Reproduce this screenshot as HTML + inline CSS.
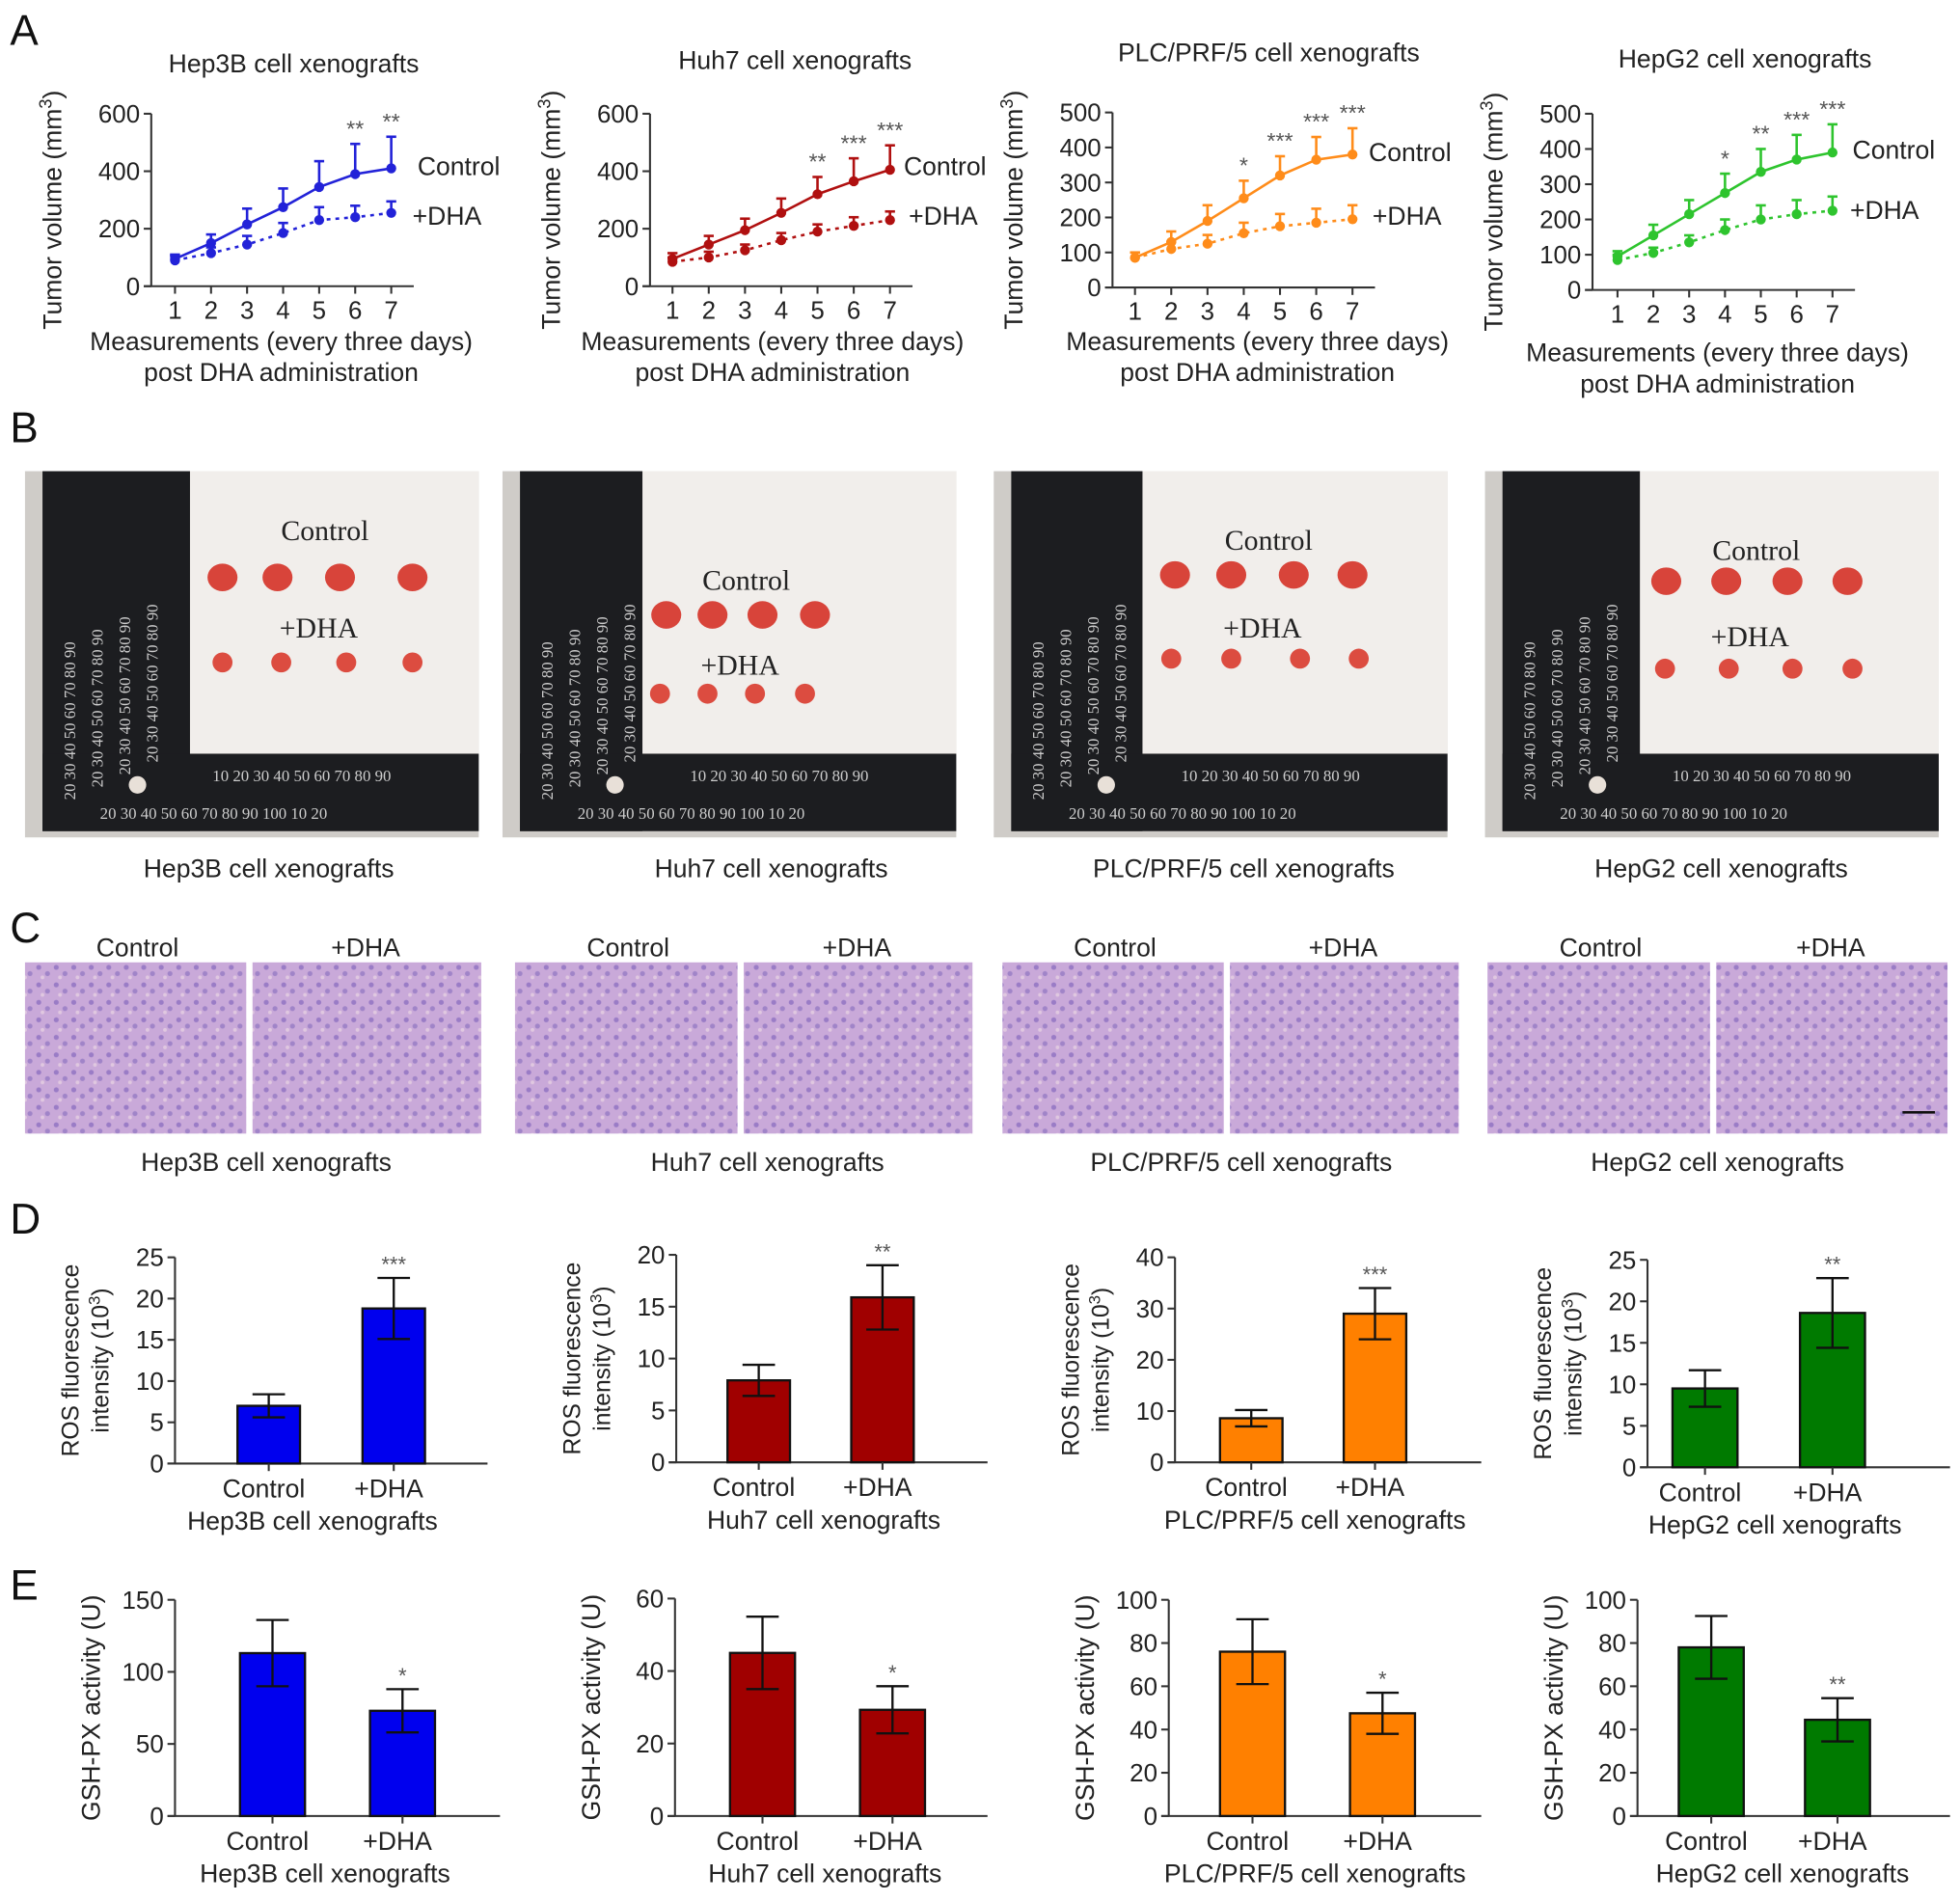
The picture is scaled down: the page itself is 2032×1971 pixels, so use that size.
<!DOCTYPE html>
<html><head><meta charset="utf-8"><style>
html,body{margin:0;padding:0;background:#fff;}
svg{display:block;font-family:"Liberation Sans",Arial,sans-serif;}
</style></head><body>
<svg id="fig" xmlns="http://www.w3.org/2000/svg" width="2032" height="1971" viewBox="0 0 1568 1521" preserveAspectRatio="none">
<rect x="0" y="0" width="1568" height="1521" fill="#fff"/>
<g id="labels" fill="#111" font-size="34">
<text x="8" y="36">A</text>
<text x="8" y="354">B</text>
<text x="8" y="754">C</text>
<text x="8" y="987">D</text>
<text x="8" y="1280">E</text>
</g>
<g id="gA"></g><g id="gB"></g><g id="gC"></g><g id="gD"></g><g id="gE"></g>
</svg>
<script>
// ---- Panel A data (tumor volume) ----
const measurements = [1,2,3,4,5,6,7];
const hep3bCtrl = [95,150,215,275,345,390,410];
const hep3bCtrlErr = [15,30,55,65,90,105,110];
const hep3bDha = [90,115,145,185,230,240,255];
const hep3bDhaErr = [15,20,30,35,45,40,40];
const hep3bStars = ["","","","","","**","**"];
const huh7Ctrl = [95,145,195,255,320,365,405];
const huh7CtrlErr = [20,30,40,50,60,80,85];
const huh7Dha = [85,100,125,160,190,210,230];
const huh7DhaErr = [15,20,20,25,25,30,30];
const huh7Stars = ["","","","","**","***","***"];
const plcCtrl = [85,130,190,255,320,365,380];
const plcCtrlErr = [15,30,45,50,55,65,75];
const plcDha = [85,110,125,155,175,185,195];
const plcDhaErr = [15,20,25,30,35,40,40];
const plcStars = ["","","","*","***","***","***"];
const hepg2Ctrl = [95,155,215,275,335,370,390];
const hepg2CtrlErr = [15,30,40,55,65,70,80];
const hepg2Dha = [85,105,135,170,200,215,225];
const hepg2DhaErr = [15,15,20,30,40,40,40];
const hepg2Stars = ["","","","*","**","***","***"];
const ticks600 = [0,200,400,600];
const ticks500 = [0,100,200,300,400,500];
// ---- Panel D data (ROS) ----
const groups = ["Control","+DHA"];
const rosHep3b = [7,18.8], rosHep3bErr = [1.4,3.7];
const rosHuh7 = [7.9,15.9], rosHuh7Err = [1.5,3.1];
const rosPlc = [8.6,29], rosPlcErr = [1.6,5];
const rosHepg2 = [9.5,18.6], rosHepg2Err = [2.2,4.2];
const rosStars = [["","***"],["","**"],["","***"],["","**"]];
// ---- Panel E data (GSH-PX) ----
const gshHep3b = [113,73], gshHep3bErr = [23,15];
const gshHuh7 = [45,29.3], gshHuh7Err = [10,6.5];
const gshPlc = [76,47.5], gshPlcErr = [15,9.5];
const gshHepg2 = [78,44.5], gshHepg2Err = [14.5,10];
const gshStars = [["","*"],["","*"],["","*"],["","**"]];

const NS="http://www.w3.org/2000/svg";
function mk(parent,tag,attrs,text){const e=document.createElementNS(NS,tag);for(const k in attrs)e.setAttribute(k,attrs[k]);if(text!==undefined)e.textContent=text;parent.appendChild(e);return e;}
const TXT="#222";
const FS=20.5;

function lineChart(cfg){
  const g=mk(document.getElementById('gA'),'g',{});
  
  
  const ymax=cfg.ticks[cfg.ticks.length-1];
  const sy=v=>cfg.y0-(v/ymax)*(cfg.y0-cfg.ytop);
  const sx=i=>cfg.x1+(i-1)*(cfg.x7-cfg.x1)/6;
  const ya=mk(g,'line',{x1:cfg.ax,y1:cfg.ytop,x2:cfg.ax,y2:cfg.y0,stroke:'#333','stroke-width':1.6});
  
  const xa=mk(g,'line',{x1:cfg.ax-6,y1:cfg.y0,x2:sx(7)+18,y2:cfg.y0,stroke:'#333','stroke-width':1.6});
  
  cfg.ticks.forEach(t=>{mk(g,'line',{x1:cfg.ax-6,y1:sy(t),x2:cfg.ax,y2:sy(t),stroke:'#333','stroke-width':1.6});
    const tl=mk(g,'text',{x:cfg.ax-9,y:sy(t)+7,'text-anchor':'end','font-size':20,fill:TXT},String(t));
    });
  measurements.forEach(m=>{mk(g,'line',{x1:sx(m),y1:cfg.y0,x2:sx(m),y2:cfg.y0+6,stroke:'#333','stroke-width':1.6});
    const tl=mk(g,'text',{x:sx(m),y:cfg.y0+26,'text-anchor':'middle','font-size':20,fill:TXT},String(m));
    });
  const title=mk(g,'text',{x:cfg.tx,y:cfg.ty,'text-anchor':'middle','font-size':FS,fill:TXT},cfg.title);
  
  const xl1=mk(g,'text',{x:cfg.xlx,y:cfg.xly,'text-anchor':'middle','font-size':FS,fill:TXT},'Measurements (every three days)');
  
  mk(g,'text',{x:cfg.xlx,y:cfg.xly+25,'text-anchor':'middle','font-size':FS,fill:TXT},'post DHA administration');
  const yc=(cfg.ytop+cfg.y0)/2+8;
  const yl=mk(g,'text',{x:0,y:0,'text-anchor':'middle','font-size':FS,fill:TXT,transform:`translate(${cfg.ax-72},${yc}) rotate(-90)`});
  
  yl.textContent='Tumor volume (mm';mk(yl,'tspan',{'baseline-shift':'super','font-size':14},'3');mk(yl,'tspan',{},')');
  const series=[[cfg.dha,cfg.dhaErr,true],[cfg.ctrl,cfg.ctrlErr,false]];
  series.forEach(([vals,errs,dashed])=>{
    const pts=vals.map((v,i)=>sx(measurements[i])+','+sy(v)).join(' ');
    const pl=mk(g,'polyline',{points:pts,fill:'none',stroke:cfg.color,'stroke-width':2,'stroke-dasharray':dashed?'3,4':'none'});
    
    vals.forEach((v,i)=>{const x=sx(measurements[i]);
      mk(g,'line',{x1:x,y1:sy(v),x2:x,y2:sy(v+errs[i]),stroke:cfg.color,'stroke-width':2});
      mk(g,'line',{x1:x-4,y1:sy(v+errs[i]),x2:x+4,y2:sy(v+errs[i]),stroke:cfg.color,'stroke-width':2});
      const p=mk(g,'circle',{cx:x,cy:sy(v),r:4,fill:cfg.color});
      });
  });
  cfg.stars.forEach((s,i)=>{if(!s)return;const x=sx(measurements[i]);
    const st=mk(g,'text',{x:x,y:sy(cfg.ctrl[i]+cfg.ctrlErr[i])-6,'text-anchor':'middle','font-size':18,fill:'#555'},s);
    });
  const lc=mk(g,'text',{x:cfg.lx,y:cfg.lcy,'font-size':FS,fill:TXT},'Control');
  
  const ld=mk(g,'text',{x:cfg.lx2,y:cfg.ldy,'font-size':FS,fill:TXT},'+DHA');
  
}
lineChart({name:'hep3b-volume-chart',ax:121,y0:229,ytop:91,x1:140,x7:313,ticks:ticks600,ctrl:hep3bCtrl,ctrlErr:hep3bCtrlErr,dha:hep3bDha,dhaErr:hep3bDhaErr,stars:hep3bStars,color:'#2222d8',title:'Hep3B cell xenografts',tx:235,ty:58,xlx:225,xly:280,lx:334,lcy:140,lx2:330,ldy:180});
lineChart({name:'huh7-volume-chart',ax:520,y0:229,ytop:91,x1:538,x7:712,ticks:ticks600,ctrl:huh7Ctrl,ctrlErr:huh7CtrlErr,dha:huh7Dha,dhaErr:huh7DhaErr,stars:huh7Stars,color:'#b01010',title:'Huh7 cell xenografts',tx:636,ty:55,xlx:618,xly:280,lx:723,lcy:140,lx2:727,ldy:180});
lineChart({name:'plc-volume-chart',ax:890,y0:230,ytop:90,x1:908,x7:1082,ticks:ticks500,ctrl:plcCtrl,ctrlErr:plcCtrlErr,dha:plcDha,dhaErr:plcDhaErr,stars:plcStars,color:'#ff8c1a',title:'PLC/PRF/5 cell xenografts',tx:1015,ty:49,xlx:1006,xly:280,lx:1095,lcy:129,lx2:1098,ldy:180});
lineChart({name:'hepg2-volume-chart',ax:1274,y0:232,ytop:91,x1:1294,x7:1466,ticks:ticks500,ctrl:hepg2Ctrl,ctrlErr:hepg2CtrlErr,dha:hepg2Dha,dhaErr:hepg2DhaErr,stars:hepg2Stars,color:'#2ec42e',title:'HepG2 cell xenografts',tx:1396,ty:54,xlx:1374,xly:289,lx:1482,lcy:127,lx2:1480,ldy:175});

// ---- Panel B photos ----
const photos=[
 {x:20,strip:118,cl:[260,432],dl:[255,510],cy:462,cx:[178,222,272,330],dy:530,dx:[178,225,277,330],cap:'Hep3B cell xenografts',capx:215,name:'hep3b-photo'},
 {x:402,strip:98,cl:[597,472],dl:[592,540],cy:492,cx:[533,570,610,652],dy:555,dx:[528,566,604,644],cap:'Huh7 cell xenografts',capx:617,name:'huh7-photo'},
 {x:795,strip:105,cl:[1015,440],dl:[1010,510],cy:460,cx:[940,985,1035,1082],dy:527,dx:[937,985,1040,1087],cap:'PLC/PRF/5 cell xenografts',capx:995,name:'plc-photo'},
 {x:1188,strip:110,cl:[1405,448],dl:[1400,517],cy:465,cx:[1333,1381,1430,1478],dy:535,dx:[1332,1383,1434,1482],cap:'HepG2 cell xenografts',capx:1377,name:'hepg2-photo'}];
const gB=document.getElementById('gB');
photos.forEach(p=>{
  const g=mk(gB,'g',{});
  mk(g,'rect',{x:p.x,y:377,width:363,height:293,fill:'#cfccc8'});
  mk(g,'rect',{x:p.x+14,y:377,width:p.strip,height:288,fill:'#1c1d20'});
  mk(g,'rect',{x:p.x+14,y:603,width:349,height:62,fill:'#1c1d20'});
  mk(g,'rect',{x:p.x+14+p.strip,y:377,width:349-p.strip,height:226,fill:'#f1eeeb'});
  for(let k=0;k<4;k++){
    mk(g,'text',{x:0,y:0,'font-size':13,fill:'#ccc','font-family':'Liberation Serif,serif',transform:`translate(${p.x+40+k*22},${640-k*10}) rotate(-90)`},'20 30 40 50 60 70 80 90');
  }
  mk(g,'text',{x:p.x+150,y:625,'font-size':13,fill:'#ccc','font-family':'Liberation Serif,serif'},'10  20  30  40   50  60  70  80  90');
  mk(g,'text',{x:p.x+60,y:655,'font-size':13,fill:'#ccc','font-family':'Liberation Serif,serif'},'20  30  40  50  60  70  80  90 100 10  20');
  mk(g,'circle',{cx:p.x+90,cy:628,r:7,fill:'#e8e0d8'});
  const c=mk(g,'text',{x:p.cl[0],y:p.cl[1],'text-anchor':'middle','font-size':23,fill:'#222','font-family':'Liberation Serif,serif'},'Control');
  
  const d=mk(g,'text',{x:p.dl[0],y:p.dl[1],'text-anchor':'middle','font-size':23,fill:'#222','font-family':'Liberation Serif,serif'},'+DHA');
  
  p.cx.forEach(x=>{const t=mk(g,'ellipse',{cx:x,cy:p.cy,rx:12,ry:11,fill:'#d8443a'});});
  p.dx.forEach(x=>{const t=mk(g,'ellipse',{cx:x,cy:p.dy,rx:8,ry:8,fill:'#dc4c40'});});
  const cap=mk(gB,'text',{x:p.capx,y:702,'text-anchor':'middle','font-size':FS,fill:TXT},p.cap);
  
});

// ---- Panel C histology ----
const gC=document.getElementById('gC');
const hist=[[20,200,385,'Hep3B cell xenografts',213],[412,593,778,'Huh7 cell xenografts',614],[802,982,1167,'PLC/PRF/5 cell xenografts',993],[1190,1371,1558,'HepG2 cell xenografts',1374]];
const defs=mk(document.getElementById('fig'),'defs',{});
const pat=mk(defs,'pattern',{id:'tissue',width:14,height:14,patternUnits:'userSpaceOnUse'});
mk(pat,'rect',{width:14,height:14,fill:'#c9a9d9'});
mk(pat,'circle',{cx:3,cy:4,r:2,fill:'#9a7cc6'});mk(pat,'circle',{cx:10,cy:9,r:2,fill:'#a084c8'});mk(pat,'circle',{cx:6,cy:12,r:1.5,fill:'#e0c8e0'});
hist.forEach(h=>{
  const a=mk(gC,'rect',{x:h[0],y:770,width:h[1]-h[0]-3,height:137,fill:'url(#tissue)'});
  const b=mk(gC,'rect',{x:h[1]+2,y:770,width:h[2]-h[1]-2,height:137,fill:'url(#tissue)'});
  mk(gC,'text',{x:(h[0]+h[1])/2,y:765,'text-anchor':'middle','font-size':FS,fill:TXT},'Control');
  mk(gC,'text',{x:(h[1]+h[2])/2,y:765,'text-anchor':'middle','font-size':FS,fill:TXT},'+DHA');
  const cap=mk(gC,'text',{x:h[4],y:937,'text-anchor':'middle','font-size':FS,fill:TXT},h[3]);
  
});
mk(gC,'line',{x1:1522,y1:890,x2:1548,y2:890,stroke:'#111','stroke-width':2});

// ---- bar charts ----
function barChart(parentId,cfg){
  const g=mk(document.getElementById(parentId),'g',{});
  
  const ymax=cfg.ticks[cfg.ticks.length-1];
  const sy=v=>cfg.y0-(v/ymax)*(cfg.y0-cfg.ytop);
  const ya=mk(g,'line',{x1:cfg.ax,y1:cfg.ytop,x2:cfg.ax,y2:cfg.y0,stroke:'#333','stroke-width':1.6});
  
  const xa=mk(g,'line',{x1:cfg.ax-6,y1:cfg.y0,x2:cfg.xend,y2:cfg.y0,stroke:'#333','stroke-width':1.6});
  
  cfg.ticks.forEach(t=>{mk(g,'line',{x1:cfg.ax-6,y1:sy(t),x2:cfg.ax,y2:sy(t),stroke:'#333','stroke-width':1.6});
    const tl=mk(g,'text',{x:cfg.ax-9,y:sy(t)+7,'text-anchor':'end','font-size':20,fill:TXT},String(t));
    });
  groups.forEach((gr,i)=>{
    const cx=cfg.cx[i],v=cfg.vals[i],e=cfg.errs[i],w=cfg.bw;
    const b=mk(g,'rect',{x:cx-w/2,y:sy(v),width:w,height:cfg.y0-sy(v),fill:cfg.color,stroke:'#111','stroke-width':1.8});
    
    mk(g,'line',{x1:cx,y1:sy(v-e),x2:cx,y2:sy(v+e),stroke:'#111','stroke-width':1.8});
    mk(g,'line',{x1:cx-13,y1:sy(v+e),x2:cx+13,y2:sy(v+e),stroke:'#111','stroke-width':1.8});
    mk(g,'line',{x1:cx-13,y1:sy(v-e),x2:cx+13,y2:sy(v-e),stroke:'#111','stroke-width':1.8});
    mk(g,'line',{x1:cx,y1:cfg.y0,x2:cx,y2:cfg.y0+6,stroke:'#333','stroke-width':1.6});
    const tl=mk(g,'text',{x:cx-4,y:cfg.y0+27,'text-anchor':'middle','font-size':FS,fill:TXT},gr);
    
    if(cfg.stars[i]){const st=mk(g,'text',{x:cx,y:sy(v+e)-5,'text-anchor':'middle','font-size':17,fill:'#555'},cfg.stars[i]);
      }
  });
  const t=mk(g,'text',{x:cfg.tx,y:cfg.y0+53,'text-anchor':'middle','font-size':FS,fill:TXT},cfg.title);
  
  const yc=(cfg.ytop+cfg.y0)/2;
  if(cfg.ros){
    const a=mk(g,'text',{x:0,y:0,'text-anchor':'middle','font-size':19,fill:TXT,transform:`translate(${cfg.ax-77},${yc}) rotate(-90)`},'ROS fluorescence');
    
    const b=mk(g,'text',{x:0,y:0,'text-anchor':'middle','font-size':19,fill:TXT,transform:`translate(${cfg.ax-53},${yc}) rotate(-90)`},'intensity (10');
    mk(b,'tspan',{'baseline-shift':'super','font-size':13},'3');mk(b,'tspan',{},')');
  } else {
    const a=mk(g,'text',{x:0,y:0,'text-anchor':'middle','font-size':FS,fill:TXT,transform:`translate(${cfg.ax-60},${yc}) rotate(-90)`},'GSH-PX activity (U)');
    
  }
}
const rosTicks25=[0,5,10,15,20,25], rosTicks20=[0,5,10,15,20], rosTicks40=[0,10,20,30,40];
barChart('gD',{name:'hep3b-ros-chart',ros:1,ax:140,y0:1171,ytop:1006,xend:390,ticks:rosTicks25,vals:rosHep3b,errs:rosHep3bErr,cx:[215,315],bw:50,color:'#0000ee',stars:rosStars[0],title:'Hep3B cell xenografts',tx:250});
barChart('gD',{name:'huh7-ros-chart',ros:1,ax:541,y0:1170,ytop:1004,xend:790,ticks:rosTicks20,vals:rosHuh7,errs:rosHuh7Err,cx:[607,706],bw:50,color:'#a00000',stars:rosStars[1],title:'Huh7 cell xenografts',tx:659});
barChart('gD',{name:'plc-ros-chart',ros:1,ax:940,y0:1170,ytop:1006,xend:1185,ticks:rosTicks40,vals:rosPlc,errs:rosPlcErr,cx:[1001,1100],bw:50,color:'#ff8000',stars:rosStars[2],title:'PLC/PRF/5 cell xenografts',tx:1052});
barChart('gD',{name:'hepg2-ros-chart',ros:1,ax:1318,y0:1174,ytop:1008,xend:1560,ticks:rosTicks25,vals:rosHepg2,errs:rosHepg2Err,cx:[1364,1466],bw:52,color:'#007a00',stars:rosStars[3],title:'HepG2 cell xenografts',tx:1420});
const gshTicks150=[0,50,100,150], gshTicks60=[0,20,40,60], gshTicks100=[0,20,40,60,80,100];
barChart('gE',{name:'hep3b-gsh-chart',ax:140,y0:1453,ytop:1280,xend:400,ticks:gshTicks150,vals:gshHep3b,errs:gshHep3bErr,cx:[218,322],bw:52,color:'#0000ee',stars:gshStars[0],title:'Hep3B cell xenografts',tx:260});
barChart('gE',{name:'huh7-gsh-chart',ax:540,y0:1453,ytop:1279,xend:790,ticks:gshTicks60,vals:gshHuh7,errs:gshHuh7Err,cx:[610,714],bw:52,color:'#a00000',stars:gshStars[1],title:'Huh7 cell xenografts',tx:660});
barChart('gE',{name:'plc-gsh-chart',ax:935,y0:1453,ytop:1280,xend:1185,ticks:gshTicks100,vals:gshPlc,errs:gshPlcErr,cx:[1002,1106],bw:52,color:'#ff8000',stars:gshStars[2],title:'PLC/PRF/5 cell xenografts',tx:1052});
barChart('gE',{name:'hepg2-gsh-chart',ax:1310,y0:1453,ytop:1280,xend:1560,ticks:gshTicks100,vals:gshHepg2,errs:gshHepg2Err,cx:[1369,1470],bw:52,color:'#007a00',stars:gshStars[3],title:'HepG2 cell xenografts',tx:1426});
</script>
</body></html>
